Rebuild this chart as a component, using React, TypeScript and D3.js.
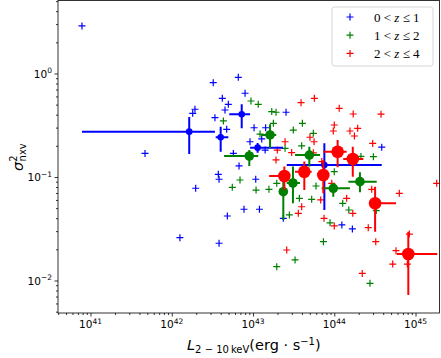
import React, { useEffect, useRef } from 'react';
import * as d3 from 'd3';

const W = 441, H = 358;

// individual sources: [L_2-10keV (erg/s), sigma^2_nxv]
const blueSources = [
  [7.85e40, 2.88], [4.69e41, 0.169], [3.24e42, 0.815], [1.93e42, 0.451], [1.81e42, 0.412],
  [3.4e42, 0.374], [6.59e42, 0.918], [7.98e42, 0.644], [4.19e42, 0.575], [4.97e42, 0.504],
  [4.52e42, 0.444], [4.74e42, 0.289], [1.03e43, 0.299], [1.43e43, 0.299], [2.55e43, 0.422],
  [9.18e42, 0.219], [1.28e43, 0.233], [5.73e42, 0.169], [1.41e43, 0.182], [6.73e42, 0.128],
  [3.74e42, 0.106], [3.82e42, 0.0951], [1.97e42, 0.0778], [1.08e43, 0.0951], [7.74e42, 0.0488],
  [1.2e43, 0.0488], [4.83e42, 0.042], [1.26e42, 0.0259], [3.82e42, 0.0229], [2.36e43, 0.0399],
  [1.24e44, 0.0344], [1.67e44, 0.0315], [3.84e44, 0.194],
];
const greenSources = [
  [9.44e42, 0.542], [1.16e43, 0.504], [4.32e42, 0.348], [1.7e43, 0.428], [1.92e43, 0.422],
  [1.78e43, 0.33], [3.13e43, 0.284], [4.05e43, 0.33], [1.22e43, 0.26], [2.48e43, 0.189],
  [3.97e43, 0.2], [6.92e42, 0.0935], [5.56e42, 0.0794], [1.09e43, 0.0748], [1.57e43, 0.076],
  [1.96e43, 0.0869], [3.72e43, 0.0622], [2.8e43, 0.043], [3.29e43, 0.0158], [1.96e43, 0.0136],
  [5.27e43, 0.0608], [7.35e43, 0.0237], [8.87e43, 0.0361], [1.27e44, 0.0557], [1.51e44, 0.048],
  [2.75e44, 0.0094], [3.29e44, 0.0474], [5.96e43, 0.0818], [1.0e44, 0.1125], [3.03e44, 0.157],
  [2.13e44, 0.158], [5.52e43, 0.264],
];
const redSources = [
  [3.9e43, 0.522], [5.69e43, 0.575], [1.15e44, 0.461], [1.71e44, 0.406], [3.76e44, 0.404],
  [1.0e44, 0.318], [9.73e43, 0.278], [1.56e44, 0.278], [1.94e44, 0.295], [1.77e44, 0.249],
  [2.97e44, 0.211], [5.02e43, 0.242], [5.64e43, 0.219], [5.52e43, 0.171], [2.48e43, 0.219],
  [1.99e43, 0.182], [2.99e43, 0.172], [1.92e43, 0.146], [1.82e45, 0.0869], [6.32e44, 0.0695],
  [2.89e44, 0.076], [1.42e44, 0.0622], [1.69e44, 0.0446], [6.81e43, 0.06], [3.97e43, 0.0516],
  [3.61e43, 0.0446], [7.48e43, 0.0399], [1.0e44, 0.0337], [2.62e44, 0.0324], [3.24e44, 0.0237],
  [8.39e44, 0.0281], [5.75e44, 0.0194], [5.24e44, 0.0144], [7.93e44, 0.0144], [2.21e44, 0.0117],
  [9.31e43, 0.0869], [7.02e43, 0.141], [2.6e43, 0.0197],
];

// binned values: [L, sigma, Llo, Lhi, sigmaLo, sigmaHi]
const blueBins = [
  [1.64e42, 0.274, 7.85e40, 3.4e42, 0.167, 0.38],
  [4.0e42, 0.242, 3.47e42, 4.97e42, 0.175, 0.306],
  [7.26e42, 0.404, 5.1e42, 9.2e42, 0.296, 0.504],
  [1.14e43, 0.192, 9.2e42, 2.34e43, 0.171, 0.213],
  [7.55e43, 0.1306, 2.6e43, 3.84e44, 0.048, 0.212],
];
const greenBins = [
  [1.62e43, 0.2546, 1.26e43, 1.93e43, 0.189, 0.323],
  [9.0e42, 0.1595, 4.4e42, 1.16e43, 0.128, 0.182],
  [4.93e43, 0.163, 3.29e43, 6.68e43, 0.126, 0.196],
  [2.36e43, 0.0721, 2.09e43, 2.62e43, 0.0385, 0.0935],
  [3.1e43, 0.0875, 2.6e43, 3.78e43, 0.0557, 0.126],
  [9.73e43, 0.0778, 7.0e43, 1.56e44, 0.0646, 0.0869],
  [2.07e44, 0.0901, 1.49e44, 3.33e44, 0.0711, 0.111],
];
const redBins = [
  [2.43e43, 0.1022, 1.58e43, 2.85e43, 0.0749, 0.126],
  [4.28e43, 0.1125, 3.29e43, 5.27e43, 0.0749, 0.141],
  [7.33e43, 0.1045, 6.37e43, 8.45e43, 0.0697, 0.146],
  [1.1e44, 0.1756, 7.33e43, 1.42e44, 0.124, 0.228],
  [1.69e44, 0.149, 1.29e44, 2.28e44, 0.1007, 0.196],
  [3.18e44, 0.0557, 2.75e44, 5.75e44, 0.0296, 0.0806],
  [8.15e44, 0.01803, 5.87e44, 1.85e45, 0.00724, 0.0296],
];

const zLow = ['0', '1', '2'];
const zHigh = ['1', '2', '4'];
const xTickExp = [41, 42, 43, 44, 45];
const yTickExp = [0, -1, -2];

const groups = [
  { pts: blueSources, bins: blueBins, color: '#0000ff', r: 3.3 },
  { pts: greenSources, bins: greenBins, color: '#008000', r: 4.8 },
  { pts: redSources, bins: redBins, color: '#ff0000', r: 6.3 },
];

const sans = 'DejaVu Sans, sans-serif';
const plus = 'M-3.5,0H3.5M0,-3.5V3.5';

export default function App() {
  const ref = useRef<SVGSVGElement>(null);

  useEffect(() => {
    const svg = d3.select(ref.current);
    svg.selectAll('*').remove();
    const left = 58, right = 439.5, top = 0.5, bottom = 313;

    const x = d3.scaleLog().domain([10 ** 40.6, 10 ** 45.295]).range([left, right]);
    const y = d3.scaleLog().domain([10 ** -2.314, 10 ** 0.705]).range([bottom, top]);

    svg.append('defs').append('clipPath').attr('id', 'plotclip')
      .append('rect')
      .attr('x', left).attr('y', top)
      .attr('width', right - left).attr('height', bottom - top);

    const plot = svg.append('g').attr('clip-path', 'url(#plotclip)');

    // small crosses
    groups.forEach(g => {
      plot.append('g').selectAll('path')
        .data(g.pts)
        .enter().append('path')
        .attr('d', plus)
        .attr('transform', d => `translate(${x(d[0])},${y(d[1])})`)
        .attr('stroke', g.color)
        .attr('stroke-width', 1.2)
        .attr('fill', 'none');
    });

    // binned points with error bars
    groups.forEach(g => {
      const eb = plot.append('g');
      eb.selectAll('.xerr').data(g.bins).enter().append('line')
        .attr('class', 'xerr')
        .attr('x1', d => x(d[2])).attr('x2', d => x(d[3]))
        .attr('y1', d => y(d[1])).attr('y2', d => y(d[1]))
        .attr('stroke', g.color).attr('stroke-width', 2);
      eb.selectAll('.yerr').data(g.bins).enter().append('line')
        .attr('class', 'yerr')
        .attr('x1', d => x(d[0])).attr('x2', d => x(d[0]))
        .attr('y1', d => y(d[4])).attr('y2', d => y(d[5]))
        .attr('stroke', g.color).attr('stroke-width', 2);
      eb.selectAll('circle').data(g.bins).enter().append('circle')
        .attr('cx', d => x(d[0])).attr('cy', d => y(d[1]))
        .attr('r', g.r)
        .attr('fill', g.color);
    });

    // axes
    const xMinor: number[] = [];
    for (let n = 40; n <= 45; n++) for (let k = 2; k <= 9; k++) {
      const v = k * 10 ** n;
      if (v > x.domain()[0] && v < x.domain()[1]) xMinor.push(v);
    }
    const yMinor: number[] = [];
    for (let n = -3; n <= 0; n++) for (let k = 2; k <= 9; k++) {
      const v = k * 10 ** n;
      if (v > y.domain()[0] && v < y.domain()[1]) yMinor.push(v);
    }
    const xMajor = xTickExp.map(e => 10 ** e);
    const yMajor = yTickExp.map(e => 10 ** e);

    const gx = svg.append('g').attr('transform', `translate(0,${bottom})`);
    gx.append('g').call(d3.axisBottom(x).tickValues(xMajor).tickSize(3.5).tickFormat(() => ''));
    gx.append('g').call(d3.axisBottom(x).tickValues(xMinor).tickSize(2).tickFormat(() => ''));
    gx.selectAll('.domain').remove();

    const gy = svg.append('g').attr('transform', `translate(${left},0)`);
    gy.append('g').call(d3.axisLeft(y).tickValues(yMajor).tickSize(3.5).tickFormat(() => ''));
    gy.append('g').call(d3.axisLeft(y).tickValues(yMinor).tickSize(2).tickFormat(() => ''));
    gy.selectAll('.domain').remove();
    svg.selectAll('.tick line').attr('stroke', '#000').attr('stroke-width', 0.8);

    svg.append('rect')
      .attr('x', left).attr('y', top)
      .attr('width', right - left).attr('height', bottom - top)
      .attr('fill', 'none').attr('stroke', '#000').attr('stroke-width', 0.8);

    // tick labels
    xTickExp.forEach(e => {
      const t = svg.append('text')
        .attr('x', x(10 ** e)).attr('y', 328)
        .attr('text-anchor', 'middle')
        .attr('font-family', sans).attr('font-size', 10.5);
      t.append('tspan').text('10');
      t.append('tspan').attr('dy', -4.5).attr('font-size', 7.5).text(String(e));
    });
    yTickExp.forEach(e => {
      const t = svg.append('text')
        .attr('x', 52).attr('y', y(10 ** e) + 4.5)
        .attr('text-anchor', 'end')
        .attr('font-family', sans).attr('font-size', 10.5);
      t.append('tspan').text('10');
      t.append('tspan').attr('dy', -4.5).attr('font-size', 7.5).text(e < 0 ? '\u2212' + Math.abs(e) : String(e));
    });

    // axis labels
    const xl = svg.append('text')
      .attr('x', 187).attr('y', 350)
      .attr('font-family', sans).attr('font-size', 14.5);
    xl.append('tspan').attr('font-style', 'italic').text('L');
    xl.append('tspan').attr('dy', 3).attr('font-size', 10).text('2 \u2212 10\u2009keV');
    xl.append('tspan').attr('dy', -3).text('(erg \u00b7 s');
    xl.append('tspan').attr('dy', -5.5).attr('font-size', 10).text('\u22121');
    xl.append('tspan').attr('dy', 5.5).text(')');

    const yl = svg.append('text')
      .attr('transform', 'translate(23,171) rotate(-90)')
      .attr('font-family', sans).attr('font-size', 14.5);
    yl.append('tspan').attr('font-style', 'italic').text('\u03c3');
    yl.append('tspan').attr('dy', -6).attr('font-size', 10).text('2');
    yl.append('tspan').attr('dx', -6).attr('dy', 9).attr('font-size', 10).text('nxv');

    // legend
    const lg = svg.append('g');
    lg.append('rect')
      .attr('x', 332).attr('y', 7).attr('width', 101).attr('height', 59).attr('rx', 2.5)
      .attr('fill', '#fff').attr('fill-opacity', 0.8)
      .attr('stroke', '#cccccc').attr('stroke-width', 0.8);
    groups.forEach((g, i) => {
      const ry = 17 + i * 18.2;
      lg.append('path').attr('d', plus)
        .attr('transform', `translate(350,${ry})`)
        .attr('stroke', g.color).attr('stroke-width', 1.2).attr('fill', 'none');
      const t = lg.append('text')
        .attr('x', 374).attr('y', ry + 4.5)
        .attr('font-family', 'Liberation Serif, DejaVu Serif, serif').attr('font-size', 13);
      t.append('tspan').text(`${zLow[i]} < `);
      t.append('tspan').attr('font-style', 'italic').text('z');
      t.append('tspan').text(` \u2264 ${zHigh[i]}`);
    });
  }, []);

  return (
    <div>
      <style>{'body{margin:0}'}</style>
      <svg ref={ref} width={W} height={H} style={{ display: 'block', background: '#fff' }} />
    </div>
  );
}
